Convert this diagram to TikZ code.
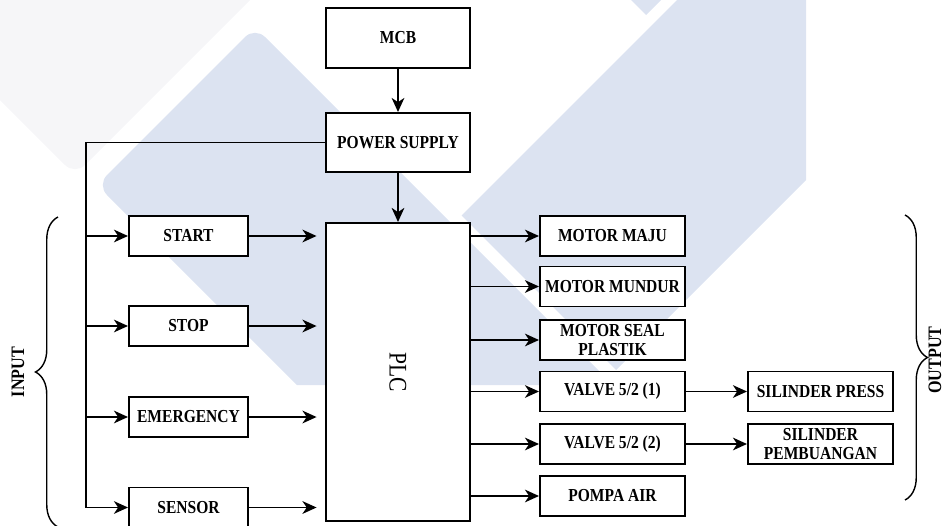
\documentclass[tikz,border=0pt]{standalone}
\usepackage{fontspec}
\setmainfont{Liberation Serif}[FakeStretch=0.85]
\usetikzlibrary{arrows.meta,calc,decorations.pathreplacing}
\definecolor{wmblue}{RGB}{220,227,241}
\definecolor{wmgrey}{RGB}{246,246,248}
\tikzset{
    plc diagram/.style = {>={Stealth[length=10pt, width=9pt, inset=3pt]},
                          x=0.025cm, y=-0.025cm},
    line/.style        = {line width=1.4pt},
    block/.style       = {draw, line width=1.4pt, fill=white, inner sep=1pt,
                          align=center, minimum height=1cm,
                          font=\fontsize{13}{13.5}\selectfont\bfseries},
    inblock/.style     = {block, minimum width=2.975cm},
    outblock/.style    = {block, minimum width=3.625cm},
    mainblock/.style   = {block, minimum width=3.6cm},
    brace line/.style  = {line width=1pt, decorate,
                          decoration={brace, amplitude=16pt}},
    side label/.style  = {rotate=90, font=\fontsize{13.5}{15}\selectfont\bfseries},
    watermark/.style   = {fill=wmblue}
}

\begin{document}
\begin{tikzpicture}[plc diagram]
\useasboundingbox (0,0) rectangle (948,526);

% ================= Watermark =================
\fill[wmgrey, rounded corners=10pt] (-20,-20) -- (270,-20) -- (75,175) -- (-20,80) -- cycle;
\fill[watermark] (613,385) -- (297,385) [rounded corners=10pt] -- (97,185) -- (255,27) -- cycle;
\fill[watermark] (697,-20) -- (806,-20) -- (806,180) -- (616,370) -- (461.5,215.5) -- cycle;
\fill[watermark] (611,-20) -- (681,-20) -- (646,15) -- cycle;

% ================= Supply chain =================
\node[mainblock, minimum height=1.5cm] (mcb) at (398,38) {MCB};
\node[mainblock, minimum height=1.475cm] (psu) at (398,142.5) {POWER SUPPLY};
\node[mainblock, minimum height=7.45cm] (plc) at (398,372) {};
\node[rotate=-90, font=\fontsize{18}{20}\selectfont] (plc label) at (plc.center) {PLC};
\draw[->, line] (mcb) -- (psu);
\draw[->, line] (psu) -- (plc);

% ================= Inputs =================
\node[inblock] (start)  at (188.5,236)   {START};
\node[inblock] (stop)   at (188.5,326)   {STOP};
\node[inblock] (emerg)  at (188.5,417)   {EMERGENCY};
\node[inblock] (sensor) at (188.5,507.5) {SENSOR};
\coordinate (bus) at (86,142.5);
\draw[->, line] (psu.west) -- (bus) |- (sensor.west);
\foreach \n in {start, stop, emerg} {
    \draw[->, line] (bus |- \n.west) -- (\n.west);
}
\foreach \n in {start, stop, emerg, sensor} {
    \draw[->, line, shorten >=6pt] (\n.east) -- (\n.east -| plc.west);
}

% ================= Outputs =================
\node[outblock] (maju)     at (612.5,236)   {MOTOR MAJU};
\node[outblock] (mundur)   at (612.5,286.5) {MOTOR MUNDUR};
\node[outblock] (seal)     at (612.5,340)   {MOTOR SEAL\\PLASTIK};
\node[outblock] (valvea)   at (612.5,391.5) {VALVE 5/2 (1)};
\node[outblock] (valveb)   at (612.5,444)   {VALVE 5/2 (2)};
\node[outblock] (pompa)    at (612.5,496)   {POMPA AIR};
\node[outblock] (silpress) at (820.5,391.5) {SILINDER PRESS};
\node[outblock] (silbuang) at (820.5,444)   {SILINDER\\PEMBUANGAN};
\foreach \n in {maju, mundur, seal, valvea, valveb, pompa} {
    \draw[->, line] (plc.east |- \n.west) -- (\n.west);
}
\draw[->, line] (valvea) -- (silpress);
\draw[->, line] (valveb) -- (silbuang);

% ================= Braces =================
\coordinate (in top) at (58,217);
\coordinate (in bottom) at (58,527);
\coordinate (out top) at (905,215);
\coordinate (out bottom) at (905,500);
\draw[brace line] (in bottom) -- (in top);
\draw[brace line] (out top) -- (out bottom);
\node[side label] (input)  at (18,372)  {INPUT};
\node[side label] (output) at (935,360) {OUTPUT};

\end{tikzpicture}
\end{document}
